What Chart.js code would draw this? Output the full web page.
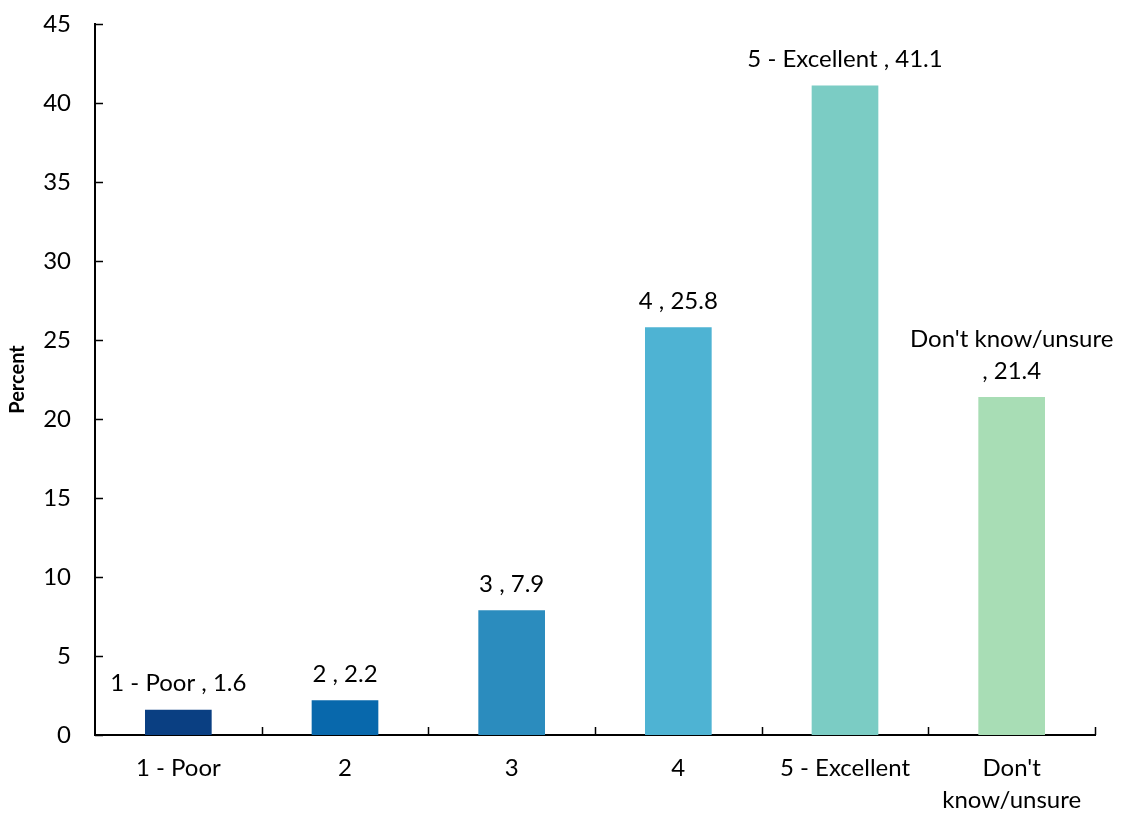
<!DOCTYPE html>
<html>
<head>
<meta charset="utf-8">
<script src="https://cdn.jsdelivr.net/npm/chart.js@4"></script>
<style>
  html, body { margin: 0; padding: 0; background: #fff; }
  #wrap { width: 1121px; height: 814px; }
</style>
</head>
<body>
<div id="wrap"><canvas id="chart" width="1121" height="814"></canvas></div>
<script>
// categories and values
var categories = ['1 - Poor', '2', '3', '4', '5 - Excellent', ["Don't", 'know/unsure']];
var barLabels = [['1 - Poor , 1.6'], ['2 , 2.2'], ['3 , 7.9'], ['4 , 25.8'], ['5 - Excellent , 41.1'], ["Don't know/unsure", ', 21.4']];
var percents = [1.6, 2.2, 7.9, 25.8, 41.1, 21.4];
var barColors = ['#0a3f82', '#0868ac', '#2b8cbe', '#4eb3d3', '#7bccc4', '#a8ddb5'];

var FONT = 'Lato, "Open Sans", sans-serif';

// value labels above bars + inward tick marks
var extras = {
    id: 'extras',
    afterDatasetsDraw: function(chart) {
        var ctx = chart.ctx;
        var meta = chart.getDatasetMeta(0);
        ctx.save();
        ctx.fillStyle = '#000';
        ctx.font = '24px ' + FONT;
        ctx.textAlign = 'center';
        ctx.textBaseline = 'middle';
        meta.data.forEach(function(bar, i) {
            var lines = barLabels[i];
            for (var k = 0; k < lines.length; k++) {
                var y = bar.y - 26 - (lines.length - 1 - k) * 32;
                ctx.fillText(lines[k], bar.x, y);
            }
        });

        var ys = chart.scales.y, xs = chart.scales.x;
        ctx.strokeStyle = '#000';
        ctx.lineWidth = 1.5;
        ctx.beginPath();
        ys.ticks.forEach(function(t, i) {
            var py = Math.round(ys.getPixelForTick(i)) + 0.5;
            ctx.moveTo(ys.right, py);
            ctx.lineTo(ys.right + 8, py);
        });
        var n = categories.length;
        for (var j = 1; j <= n; j++) {
            var px = xs.left + (xs.right - xs.left) * j / n;
            px = Math.round(px) + 0.5;
            ctx.moveTo(px, xs.top);
            ctx.lineTo(px, xs.top - 8);
        }
        ctx.stroke();
        ctx.restore();
    }
};

var ctx = document.getElementById('chart').getContext('2d');
var myChart = new Chart(ctx, {
    type: 'bar',
    data: {
        labels: categories,
        datasets: [{
            data: percents,
            backgroundColor: barColors,
            borderWidth: 0,
            categoryPercentage: 1.0,
            barPercentage: 0.4
        }]
    },
    options: {
        responsive: false,
        animation: false,
        layout: { padding: { top: 24, right: 26, left: 0, bottom: 0 } },
        plugins: {
            legend: { display: false },
            tooltip: { enabled: false }
        },
        scales: {
            x: {
                grid: { display: false, drawTicks: false },
                border: { color: '#000', width: 2 },
                ticks: {
                    color: '#000',
                    font: { size: 24, family: FONT, lineHeight: 1.3 },
                    padding: 18,
                    maxRotation: 0,
                    autoSkip: false
                },
                afterFit: function(scale) { scale.height = 79; }
            },
            y: {
                min: 0,
                max: 45,
                grid: { display: false, drawTicks: false },
                border: { color: '#000', width: 2 },
                ticks: {
                    stepSize: 5,
                    color: '#000',
                    font: { size: 24, family: FONT },
                    padding: 24
                },
                title: {
                    display: true,
                    text: 'Percent',
                    color: '#000',
                    font: { size: 20, weight: 'bold', family: FONT },
                    padding: { top: 6, bottom: 0 }
                },
                afterFit: function(scale) {
                    scale.width = 95;
                    scale.paddingTop = 0;
                    scale.paddingBottom = 0;
                }
            }
        }
    },
    plugins: [extras]
});
</script>
</body>
</html>
